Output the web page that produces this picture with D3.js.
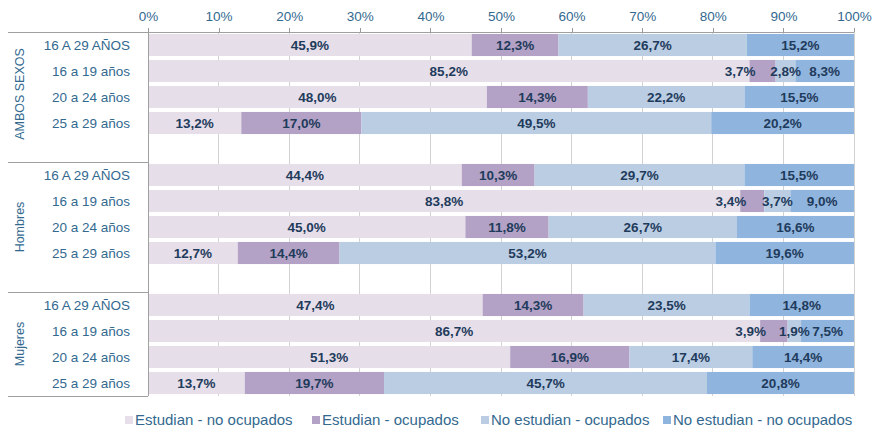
<!DOCTYPE html>
<html>
<head>
<meta charset="utf-8">
<script src="https://cdn.jsdelivr.net/npm/d3@7/dist/d3.min.js"></script>
<style>
  html, body { margin: 0; padding: 0; background: #fff; }
  svg { display: block; font-family: "Liberation Sans", Arial, sans-serif; }
</style>
</head>
<body>
<svg id="chart" width="872" height="428"></svg>
<script>
// Groups, age bands and series
const groups = ["AMBOS SEXOS", "Hombres", "Mujeres"];
const ageBands = ["16 A 29 AÑOS", "16 a 19 años", "20 a 24 años", "25 a 29 años"];
const seriesNames = ["Estudian - no ocupados", "Estudian - ocupados", "No estudian - ocupados", "No estudian - no ocupados"];
const seriesColors = ["#e6dfea", "#b3a2c5", "#bacde3", "#8fb4dd"];

// Percentages per row: (group x age band), in order
const estudianNoOcupados   = [45.9, 85.2, 48.0, 13.2,  44.4, 83.8, 45.0, 12.7,  47.4, 86.7, 51.3, 13.7];
const estudianOcupados     = [12.3,  3.7, 14.3, 17.0,  10.3,  3.4, 11.8, 14.4,  14.3,  3.9, 16.9, 19.7];
const noEstudianOcupados   = [26.7,  2.8, 22.2, 49.5,  29.7,  3.7, 26.7, 53.2,  23.5,  1.9, 17.4, 45.7];
const noEstudianNoOcupados = [15.2,  8.3, 15.5, 20.2,  15.5,  9.0, 16.6, 19.6,  14.8,  7.5, 14.4, 20.8];

const xTicks = [0, 10, 20, 30, 40, 50, 60, 70, 80, 90, 100];

const valueArrays = [estudianNoOcupados, estudianOcupados, noEstudianOcupados, noEstudianNoOcupados];

// Build rows, with one empty slot between groups
const rows = [];
const slots = [];
groups.forEach((g, gi) => {
  ageBands.forEach((a, ai) => {
    const idx = gi * ageBands.length + ai;
    const row = { id: `r${idx}`, group: g, gi, label: a };
    valueArrays.forEach((arr, si) => { row["s" + si] = arr[idx]; });
    rows.push(row);
    slots.push(row.id);
  });
  if (gi < groups.length - 1) slots.push(`gap${gi}`);
});

const svg = d3.select("#chart");
const plotLeft = 148, plotRight = 854, plotTop = 32, plotBottom = 396;
const labelColor = "#33698f";

const x = d3.scaleLinear().domain([0, 1]).range([plotLeft, plotRight]);
const y = d3.scaleBand().domain(slots).range([plotTop, plotBottom]).paddingInner(0.15).paddingOuter(0.075);

// Vertical gridlines
svg.append("g")
  .selectAll("line")
  .data(xTicks)
  .join("line")
  .attr("x1", d => x(d / 100)).attr("x2", d => x(d / 100))
  .attr("y1", plotTop).attr("y2", plotBottom)
  .attr("stroke", "#d2d2d2").attr("stroke-width", 1)
  .attr("shape-rendering", "crispEdges");

// Top axis with short tick marks
const axis = d3.axisTop(x)
  .tickValues(xTicks.map(t => t / 100))
  .tickFormat(d => Math.round(d * 100) + "%")
  .tickSize(4)
  .tickPadding(7);

const gAxis = svg.append("g").attr("transform", `translate(0,${plotTop})`).call(axis);
gAxis.select(".domain").remove();
gAxis.selectAll(".tick line").attr("stroke", "#9a9a9a").attr("shape-rendering", "crispEdges");
gAxis.selectAll(".tick text")
  .attr("fill", labelColor)
  .style("font-size", "13.5px")
  .style("font-family", "'Liberation Sans', Arial, sans-serif");

// Stacked bars (100% stacked)
const keys = seriesNames.map((_, i) => "s" + i);
const stacked = d3.stack().keys(keys).offset(d3.stackOffsetExpand)(rows);

const layers = svg.append("g")
  .selectAll("g")
  .data(stacked)
  .join("g")
  .attr("fill", (d, i) => seriesColors[i]);

layers.selectAll("rect")
  .data(d => d)
  .join("rect")
  .attr("x", d => x(d[0]))
  .attr("y", d => y(d.data.id))
  .attr("width", d => x(d[1]) - x(d[0]))
  .attr("height", y.bandwidth());

// Value labels; a narrow "Estudian - ocupados" label sits just left of its segment
const fmt = v => v.toFixed(1).replace(".", ",") + "%";
const isNarrow = (d, si) => si === 1 && (x(d[1]) - x(d[0])) < 40;
stacked.forEach((layer, si) => {
  svg.append("g")
    .selectAll("text")
    .data(layer)
    .join("text")
    .attr("x", d => isNarrow(d, si) ? x(d[0]) + 6 : (x(d[0]) + x(d[1])) / 2)
    .attr("y", d => y(d.data.id) + y.bandwidth() / 2)
    .attr("dy", "0.36em")
    .attr("text-anchor", d => isNarrow(d, si) ? "end" : "middle")
    .attr("fill", "#1f3b5c")
    .style("font-size", "13.5px")
    .style("font-weight", "bold")
    .text(d => fmt(d.data["s" + si]));
});

// Left table: frame lines
const frame = svg.append("g").attr("stroke", "#a0a0a0").attr("shape-rendering", "crispEdges");
frame.append("line").attr("x1", 8).attr("x2", plotRight).attr("y1", plotTop).attr("y2", plotTop);
frame.append("line").attr("x1", plotLeft).attr("x2", plotLeft).attr("y1", plotTop).attr("y2", plotBottom);
const step = y.step();
[plotTop + 5 * step, plotTop + 10 * step, plotBottom].forEach(v => {
  frame.append("line").attr("x1", 8).attr("x2", plotLeft).attr("y1", v).attr("y2", v);
});

// Row labels
svg.append("g")
  .selectAll("text")
  .data(rows)
  .join("text")
  .attr("x", 130)
  .attr("y", d => y(d.id) + y.bandwidth() / 2)
  .attr("dy", "0.36em")
  .attr("text-anchor", "end")
  .attr("fill", labelColor)
  .style("font-size", "13.5px")
  .text(d => d.label);

// Group labels (rotated)
const groupSpans = [[plotTop, plotTop + 5 * step], [plotTop + 5 * step, plotTop + 10 * step], [plotTop + 10 * step, plotBottom]];
svg.append("g")
  .selectAll("text")
  .data(groups)
  .join("text")
  .attr("transform", (d, i) => `translate(19,${(groupSpans[i][0] + groupSpans[i][1]) / 2 - (i === 0 ? 3 : 0)}) rotate(-90)`)
  .attr("dy", "0.36em")
  .attr("text-anchor", "middle")
  .attr("fill", labelColor)
  .style("font-size", "12.5px")
  .text(d => d);

// Legend
const legendX = [125, 312, 481, 663];
const legend = svg.append("g")
  .selectAll("g")
  .data(seriesNames)
  .join("g")
  .attr("transform", (d, i) => `translate(${legendX[i]},416)`);
legend.append("rect")
  .attr("width", 8).attr("height", 8)
  .attr("fill", (d, i) => seriesColors[i]);
legend.append("text")
  .attr("x", 10).attr("y", 4)
  .attr("dy", "0.36em")
  .attr("fill", labelColor)
  .style("font-size", "15px")
  .text(d => d);
</script>
</body>
</html>
